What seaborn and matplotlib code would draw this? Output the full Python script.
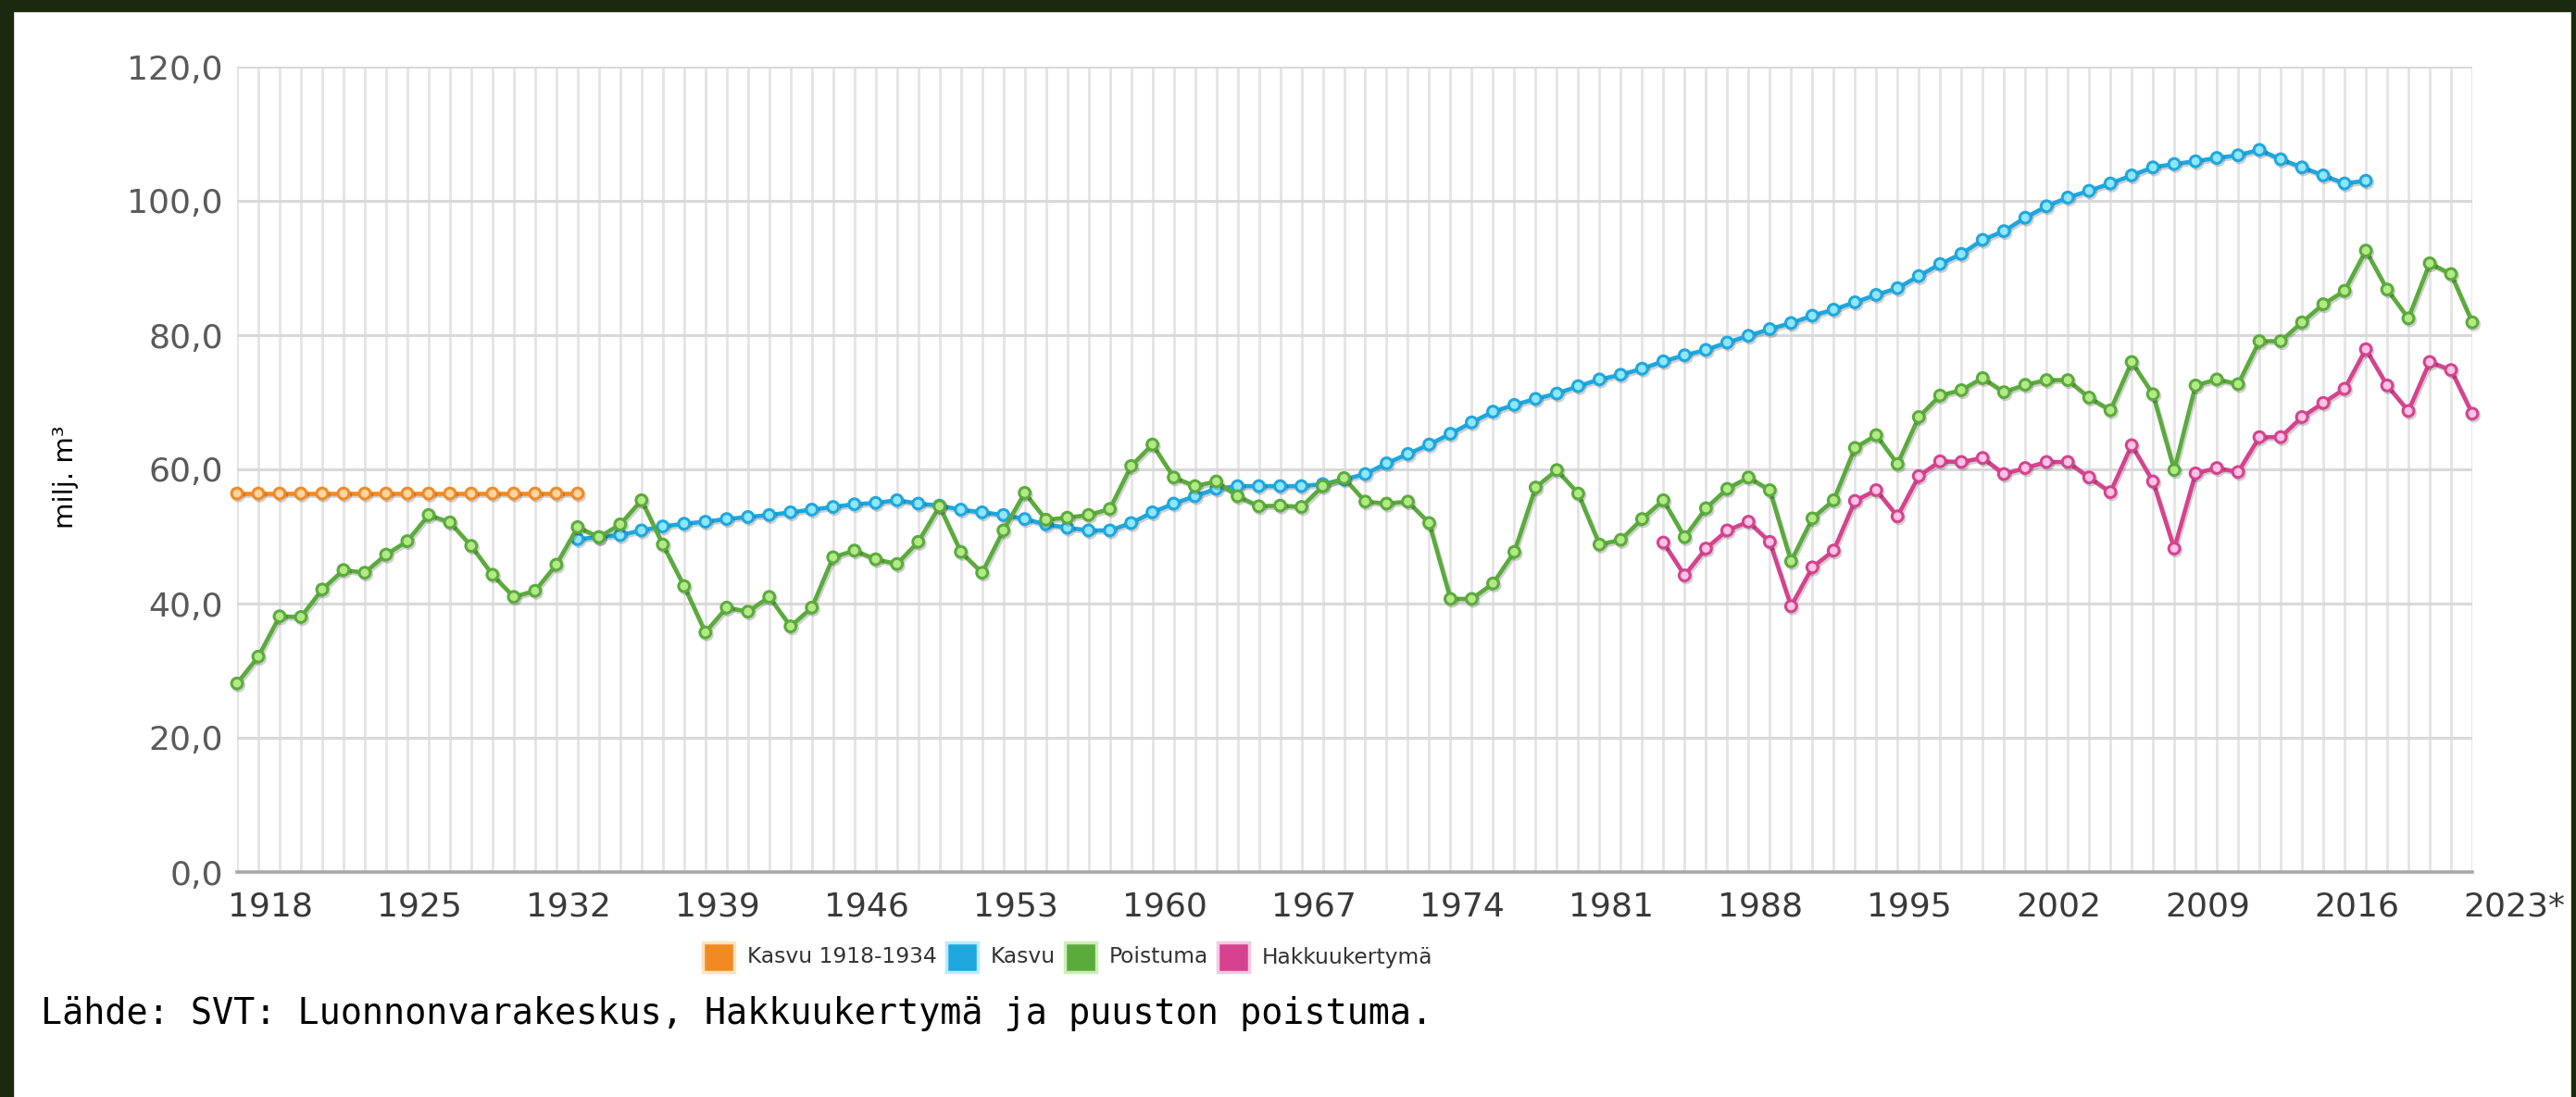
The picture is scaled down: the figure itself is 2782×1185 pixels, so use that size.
import matplotlib
matplotlib.use("Agg")
import matplotlib.pyplot as plt
import matplotlib.transforms as mtransforms
import matplotlib.patheffects as pe
from matplotlib.patches import Rectangle
import seaborn as sns

# ---------------- data ----------------
years_kasvu_old = list(range(1918, 1935))
kasvu_1918_1934 = [56.4, 56.4, 56.4, 56.4, 56.4, 56.4, 56.4, 56.4, 56.4,
                   56.4, 56.4, 56.4, 56.4, 56.4, 56.4, 56.4, 56.4]

years_kasvu = list(range(1934, 2019))
kasvu = [49.6, 49.9, 50.2, 50.9, 51.5, 51.9, 52.2, 52.6, 52.9, 53.2,
         53.6, 54.0, 54.4, 54.8, 55.0, 55.4, 54.9, 54.6, 54.0, 53.6,
         53.2, 52.6, 51.8, 51.3, 50.9, 50.9, 52.0, 53.6, 54.9, 56.0,
         57.1, 57.5, 57.5, 57.5, 57.5, 57.8, 58.5, 59.3, 60.9, 62.3,
         63.7, 65.3, 67.0, 68.6, 69.6, 70.5, 71.3, 72.4, 73.4, 74.1,
         75.0, 76.1, 77.0, 77.8, 78.9, 79.9, 80.9, 81.8, 82.9, 83.8,
         84.9, 86.0, 87.0, 88.8, 90.6, 92.1, 94.2, 95.5, 97.5, 99.2,
         100.5, 101.5, 102.6, 103.8, 105.0, 105.5, 105.9, 106.4, 106.8, 107.6,
         106.2, 105.0, 103.8, 102.6, 103.0]

years_poistuma = list(range(1918, 2024))
poistuma = [28.1, 32.1, 38.1, 38.0, 42.1, 45.0, 44.6, 47.3, 49.3, 53.2,
            52.1, 48.6, 44.3, 41.0, 41.9, 45.8, 51.4, 49.9, 51.8, 55.4,
            48.8, 42.6, 35.7, 39.4, 38.8, 41.0, 36.6, 39.4, 46.9, 47.9,
            46.6, 45.9, 49.2, 54.5, 47.7, 44.6, 50.9, 56.5, 52.5, 52.8,
            53.2, 54.1, 60.5, 63.7, 58.8, 57.5, 58.2, 56.0, 54.5, 54.6,
            54.4, 57.5, 58.7, 55.2, 54.9, 55.2, 52.0, 40.7, 40.7, 43.0,
            47.7, 57.3, 59.9, 56.4, 48.8, 49.5, 52.6, 55.4, 49.9, 54.2,
            57.1, 58.8, 56.9, 46.3, 52.7, 55.4, 63.2, 65.1, 60.8, 67.8,
            71.0, 71.8, 73.6, 71.5, 72.6, 73.3, 73.3, 70.7, 68.8, 76.0,
            71.2, 59.9, 72.5, 73.4, 72.7, 79.1, 79.1, 81.9, 84.6, 86.6,
            92.6, 86.8, 82.5, 90.7, 89.1, 81.9]

years_hakkuu = list(range(1985, 2024))
hakkuukertyma = [49.1, 44.2, 48.2, 50.9, 52.2, 49.2, 39.6, 45.4, 47.9, 55.3,
                 56.9, 53.0, 59.0, 61.2, 61.1, 61.7, 59.3, 60.2, 61.1, 61.1,
                 58.8, 56.6, 63.6, 58.2, 48.2, 59.4, 60.2, 59.6, 64.8, 64.8,
                 67.8, 69.9, 72.0, 77.9, 72.5, 68.7, 76.0, 74.8, 68.3]

x_tick_years = [1918, 1925, 1932, 1939, 1946, 1953, 1960, 1967, 1974,
                1981, 1988, 1995, 2002, 2009, 2016, 2023]
x_tick_labels = ["1918", "1925", "1932", "1939", "1946", "1953", "1960", "1967",
                 "1974", "1981", "1988", "1995", "2002", "2009", "2016", "2023*"]
y_ticks = [0, 20, 40, 60, 80, 100, 120]
y_tick_labels = ["0,0", "20,0", "40,0", "60,0", "80,0", "100,0", "120,0"]
series_names = ["Kasvu 1918-1934", "Kasvu", "Poistuma", "Hakkuukertymä"]
y_label = "milj. m³"
source_text = "Lähde: SVT: Luonnonvarakeskus, Hakkuukertymä ja puuston poistuma."

# ---------------- style ----------------
line_colors = ["#f28a23", "#1ea7df", "#5aab3c", "#d6428f"]
face_colors = ["#ffd6a3", "#8fe6ff", "#b3ea86", "#ffc4e4"]
legend_edges = ["#ffe3bd", "#b9ecff", "#cdeeb5", "#f6c8e2"]

W, H = 2782, 1185
sns.set_style("white")
plt.rcParams["font.family"] = ["DejaVu Sans"]

fig = plt.figure(figsize=(W / 100, H / 100), dpi=100)
fig.patch.set_facecolor("white")

# dark page frame
border = "#1b2a0e"
fig.patches.append(Rectangle((0, 0), 14 / W, 1, transform=fig.transFigure, color=border, zorder=0))
fig.patches.append(Rectangle((0, 1 - 12 / H), 1, 12 / H, transform=fig.transFigure, color=border, zorder=0))
fig.patches.append(Rectangle((1 - 5 / W, 0), 5 / W, 1, transform=fig.transFigure, color=border, zorder=0))

left, right, top, bottom = 256, 2670, 72, 942
ax = fig.add_axes([left / W, 1 - bottom / H, (right - left) / W, (bottom - top) / H])
ax.set_facecolor("white")

shadow = [pe.SimpleLineShadow(offset=(1.2, -1.6), shadow_color="black", alpha=0.18), pe.Normal()]

series = [
    (years_kasvu_old, kasvu_1918_1934),
    (years_kasvu, kasvu),
    (years_poistuma, poistuma),
    (years_hakkuu, hakkuukertyma),
]
for i, (xs, ys) in enumerate(series):
    sns.lineplot(x=xs, y=ys, ax=ax, color=line_colors[i], linewidth=3.3,
                 marker="o", markersize=8.5, markerfacecolor=face_colors[i],
                 markeredgecolor=line_colors[i], markeredgewidth=2.2,
                 clip_on=False, zorder=3 + i, path_effects=shadow)

ax.set_xlim(1918, 2023)
ax.set_ylim(0, 120)

ax.set_xticks(years_poistuma, minor=True)
ax.set_xticks(x_tick_years)
ax.set_xticklabels(x_tick_labels)
ax.set_yticks(y_ticks)
ax.set_yticklabels(y_tick_labels)

ax.grid(True, axis="x", which="both", color="#e4e4e4", linewidth=2.0, zorder=0)
ax.grid(True, axis="y", which="major", color="#d9d9d9", linewidth=2.2, zorder=0)
ax.set_axisbelow(True)

for s in ["top", "right", "left"]:
    ax.spines[s].set_visible(False)
ax.spines["bottom"].set_color("#a8a8a8")
ax.spines["bottom"].set_linewidth(2.6)

ax.tick_params(axis="both", which="both", length=0)
ax.tick_params(axis="x", pad=15, labelsize=26, labelcolor="#3a3a3a")
ax.tick_params(axis="y", pad=11, labelsize=26, labelcolor="#5a5a5a")
ax.set_xlabel("")
ax.set_ylabel("")

offset = mtransforms.ScaledTranslation(-10 / 100, 0, fig.dpi_scale_trans)
for lab in ax.get_xticklabels():
    lab.set_horizontalalignment("left")
    lab.set_transform(lab.get_transform() + offset)

fig.text(71 / W, 1 - 515 / H, y_label, rotation=90, ha="center", va="center",
         fontsize=21, color="black")

# ---------------- legend (manual, Highcharts-like) ----------------
fig.canvas.draw()
renderer = fig.canvas.get_renderer()

leg_fs = 16.5
probe = [fig.text(0, 0, n, fontsize=leg_fs) for n in series_names]
widths = [p.get_window_extent(renderer).width for p in probe]
for p in probe:
    p.remove()
target_text_total = 567.0
scale = target_text_total / sum(widths)
leg_fs = leg_fs * scale
widths = [w * scale for w in widths]

leg_y = 1034
sq_w, sq_h = 34, 32
x = 759
for i, name in enumerate(series_names):
    fig.patches.append(Rectangle((x / W, 1 - (leg_y + sq_h / 2) / H), sq_w / W, sq_h / H,
                                 transform=fig.transFigure, facecolor=line_colors[i],
                                 edgecolor=legend_edges[i], linewidth=2.5, zorder=2))
    x += sq_w + 14
    fig.text(x / W, 1 - leg_y / H, name, fontsize=leg_fs, color="#333333",
             ha="left", va="center")
    x += widths[i] + 10

# ---------------- source line ----------------
src = fig.text(44 / W, 1 - 1095 / H, source_text, fontsize=24, color="black",
               ha="left", va="center", family=["DejaVu Sans Mono"])
fig.canvas.draw()
w_src = src.get_window_extent(fig.canvas.get_renderer()).width
src.set_fontsize(24 * 1512.0 / w_src)

fig.savefig("out.png", dpi=100, facecolor="white")
